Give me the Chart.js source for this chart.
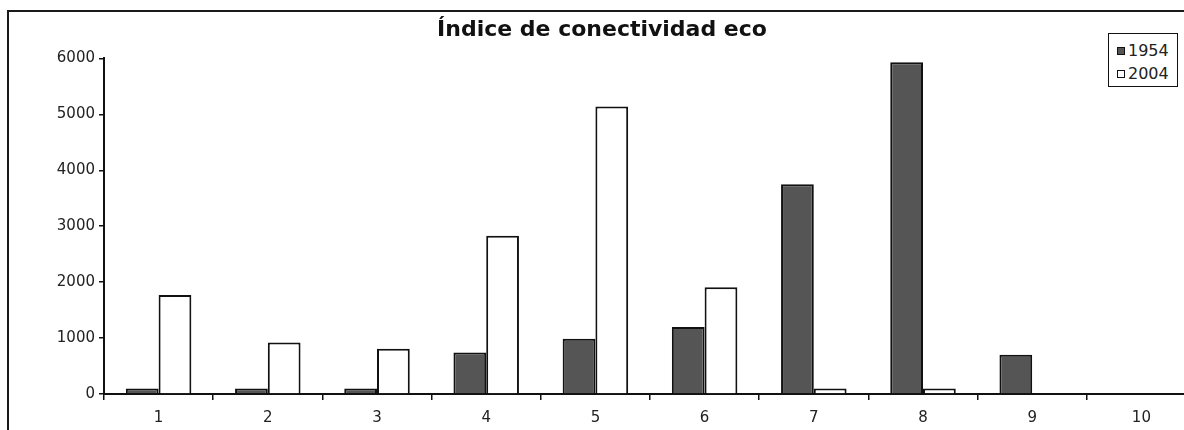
<!DOCTYPE html>
<html>
<head>
<meta charset="utf-8">
<script src="https://cdn.jsdelivr.net/npm/chart.js@4"></script>
<style>
  html, body { margin: 0; padding: 0; background: #fff; overflow: hidden; }
  #wrap { position: relative; width: 1184px; height: 430px; overflow: hidden; }
  #frame {
    position: absolute; left: 7px; top: 10px; width: 1300px; height: 600px;
    border-left: 2px solid #1a1a1a; border-top: 2px solid #1a1a1a;
    pointer-events: none; box-sizing: border-box;
  }
  #legend {
    position: absolute; left: 1108px; top: 33px; width: 70px; height: 54px;
    border: 1.5px solid #111; background: #fff; box-sizing: border-box;
    font-family: 'DejaVu Sans', sans-serif; font-size: 16px; color: #222;
    padding-top: 5px;
  }
  .item { display: flex; align-items: center; height: 23px; padding-left: 8px; }
  .swatch { width: 6px; height: 6px; border: 1.5px solid #111; margin-right: 3px; }
</style>
</head>
<body>
<div id="wrap">
  <canvas id="chart" width="1184" height="430"></canvas>
  <div id="frame"></div>
  <div id="legend"></div>
</div>
<script>
// Sections 1..10 along the horizontal axis
const categories = ['1', '2', '3', '4', '5', '6', '7', '8', '9', '10'];
// Connectivity index per section, 1954 and 2004
const values1954 = [100, 100, 100, 740, 990, 1200, 3750, 5930, 700, 0];
const values2004 = [1770, 920, 810, 2830, 5140, 1910, 100, 100, 0, 0];
const seriesNames = ['1954', '2004'];
const yTicks = [0, 1000, 2000, 3000, 4000, 5000, 6000];

const FONT = 'DejaVu Sans';

const toPoints = vals => categories.map((c, i) => ({ x: i + 1, y: vals[i] }));

const chart = new Chart(document.getElementById('chart'), {
  type: 'bar',
  data: {
    datasets: [
      {
        label: seriesNames[0],
        data: toPoints(values1954),
        backgroundColor: '#555555',
        borderColor: '#111111',
        borderWidth: 2
      },
      {
        label: seriesNames[1],
        data: toPoints(values2004),
        backgroundColor: '#ffffff',
        borderColor: '#111111',
        borderWidth: 2
      }
    ]
  },
  options: {
    responsive: false,
    animation: false,
    devicePixelRatio: 1,
    layout: { padding: { left: 20, right: 0, top: 0, bottom: 0 } },
    datasets: { bar: { categoryPercentage: 0.6, barPercentage: 1 } },
    plugins: {
      legend: { display: false },
      tooltip: { enabled: false },
      title: {
        display: true,
        text: 'Índice de conectividad eco',
        color: '#111',
        font: { family: FONT, size: 22, weight: 'bold', lineHeight: 1.2 },
        padding: { top: 17, bottom: 15 }
      }
    },
    scales: {
      x: {
        type: 'linear',
        min: 0.5,
        max: 10.39,
        offset: false,
        afterBuildTicks: s => { s.ticks = categories.map((c, i) => ({ value: i + 1 })); },
        afterFit: s => { s.height = 36; },
        ticks: {
          callback: (v, i) => categories[i],
          color: '#222',
          font: { family: FONT, size: 15 },
          padding: 9,
          autoSkip: false,
          maxRotation: 0
        },
        grid: {
          offset: true,
          drawOnChartArea: false,
          drawTicks: true,
          tickLength: 6,
          color: '#111',
          lineWidth: 1.5
        },
        border: { display: true, color: '#111', width: 2 }
      },
      y: {
        min: 0,
        max: 6000,
        afterBuildTicks: s => { s.ticks = yTicks.map(v => ({ value: v })); },
        afterFit: s => { s.width = 84; },
        ticks: {
          callback: v => String(v),
          color: '#222',
          font: { family: FONT, size: 15 },
          padding: 4
        },
        grid: {
          drawOnChartArea: false,
          drawTicks: true,
          tickLength: 5,
          color: '#111',
          lineWidth: 1.5
        },
        border: { display: true, color: '#111', width: 2 }
      }
    }
  }
});

// Legend box built from the chart's own datasets
const legend = document.getElementById('legend');
chart.data.datasets.forEach(ds => {
  const row = document.createElement('div');
  row.className = 'item';
  const sw = document.createElement('span');
  sw.className = 'swatch';
  sw.style.background = ds.backgroundColor;
  const label = document.createElement('span');
  label.textContent = ds.label;
  row.appendChild(sw);
  row.appendChild(label);
  legend.appendChild(row);
});
</script>
</body>
</html>
